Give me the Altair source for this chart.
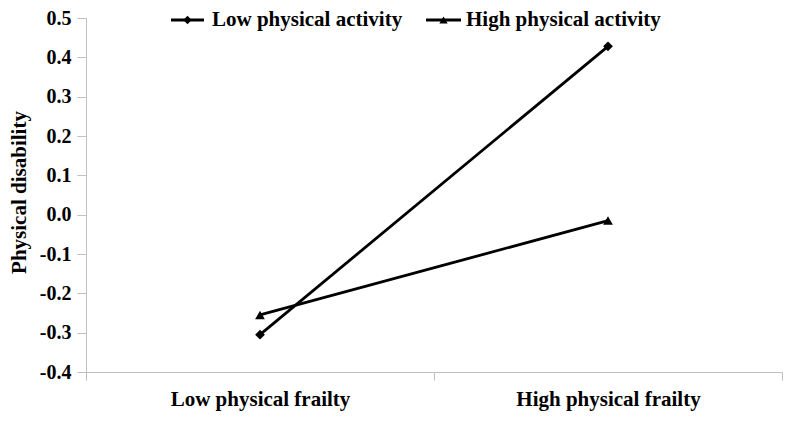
import altair as alt
import pandas as pd

categories = ["Low physical frailty", "High physical frailty"]
series_names = ["Low physical activity", "High physical activity"]
low_activity = [-0.305, 0.428]
high_activity = [-0.255, -0.015]
y_ticks = [-0.4, -0.3, -0.2, -0.1, 0.0, 0.1, 0.2, 0.3, 0.4, 0.5]
shapes = ["diamond", "triangle-up"]

rows = []
for cat, v in zip(categories, low_activity):
    rows.append({"frailty": cat, "value": v, "series": series_names[0]})
for cat, v in zip(categories, high_activity):
    rows.append({"frailty": cat, "value": v, "series": series_names[1]})
df = pd.DataFrame(rows)

FONT = "Liberation Serif"
AXIS_GRAY = "#bfbfbf"
W, H = 696, 354

x_enc = alt.X(
    "frailty:N",
    sort=categories,
    scale=alt.Scale(type="band", paddingInner=0, paddingOuter=0),
    axis=alt.Axis(
        title=None, labelAngle=0, tickBand="extent", tickSize=8,
        labelPadding=8, labelFont=FONT, labelFontSize=21, labelFontWeight="bold",
        labelColor="black", labelLimit=0, labelOverlap=False,
        domainColor=AXIS_GRAY, tickColor=AXIS_GRAY, grid=False,
    ),
)
y_enc = alt.Y(
    "value:Q",
    scale=alt.Scale(domain=[-0.4, 0.5], nice=False, zero=False),
    axis=alt.Axis(
        title="Physical disability", values=y_ticks, tickCount=10,
        labelExpr="replace(format(datum.value, '.1f'), '\u2212', '-')",
        labelOverlap=False,
        tickSize=9, labelPadding=6, labelFont=FONT, labelFontSize=20,
        labelFontWeight="bold", labelColor="black", domainColor=AXIS_GRAY,
        tickColor=AXIS_GRAY, grid=False, titleFont=FONT, titleFontSize=21,
        titleFontWeight="bold", titleColor="black", titleX=-67, titleY=174,
        titleBaseline="middle", titleAngle=-90, titleAlign="center",
    ),
)

lines = alt.Chart(df).mark_line(color="black", strokeWidth=2.8).encode(
    x=x_enc, y=y_enc, detail="series:N"
)
points = alt.Chart(df).mark_point(filled=True, opacity=1, color="black", size=95).encode(
    x=x_enc,
    y=y_enc,
    shape=alt.Shape("series:N", scale=alt.Scale(domain=series_names, range=shapes), legend=None),
)

legend_layers = []
legend_pos = [(85, 118, 126), (340, 375, 380)]
LEG_Y = 2
for name, shp, (x1, x2, xt) in zip(series_names, shapes, legend_pos):
    ldf = pd.DataFrame({"series": [name]})
    base = alt.Chart(ldf)
    legend_layers.append(
        base.mark_rule(color="black", strokeWidth=2.8).encode(
            x=alt.value(x1), x2=alt.value(x2), y=alt.value(LEG_Y)
        )
    )
    legend_layers.append(
        base.mark_point(filled=True, opacity=1, color="black", size=70, shape=shp).encode(
            x=alt.value((x1 + x2) / 2), y=alt.value(LEG_Y)
        )
    )
    legend_layers.append(
        base.mark_text(align="left", baseline="middle", font=FONT, fontSize=21,
                       fontWeight="bold", color="black").encode(
            text="series:N", x=alt.value(xt), y=alt.value(LEG_Y)
        )
    )

chart = alt.layer(lines, points, *legend_layers).properties(
    width=W,
    height=H,
    autosize=alt.AutoSizeParams(type="none"),
    padding={"left": 78, "top": 10, "right": 2, "bottom": 40},
).configure_view(stroke=None).configure_axisY(labelOverlap=False)

chart.save("out.html", embed_options={"renderer": "svg", "actions": False})
